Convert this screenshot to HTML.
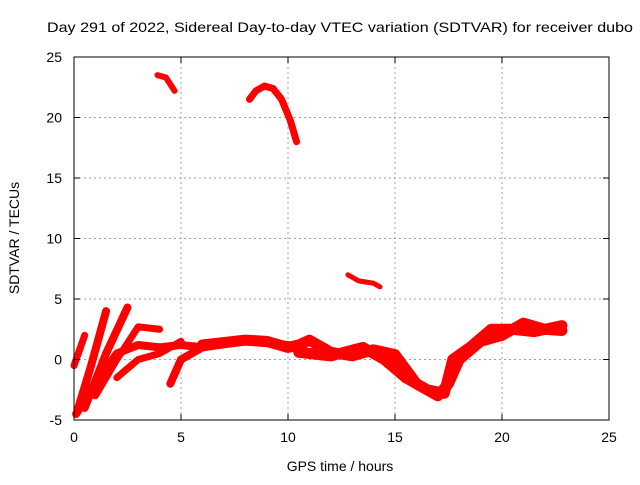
<!DOCTYPE html>
<html><head><meta charset="utf-8"><style>
body{margin:0;background:#fff;}
svg{font-family:"Liberation Sans",sans-serif;}
</style></head><body>
<svg width="640" height="480">
<rect width="640" height="480" fill="#fff"/>
<g id="grid"></g>
<g id="series"></g>
<g id="axes"></g>
<text x="47" y="32" font-size="14" textLength="586" lengthAdjust="spacingAndGlyphs">Day 291 of 2022, Sidereal Day-to-day VTEC variation (SDTVAR) for receiver dubo</text>
<text x="340" y="471" text-anchor="middle" font-size="14">GPS time / hours</text>
<text transform="translate(19,238) rotate(-90)" text-anchor="middle" font-size="14">SDTVAR / TECUs</text>
</svg>
<script>
const xTicks=[0,5,10,15,20,25];
const yTicks=[-5,0,5,10,15,20,25];
const trackA=[[0,-0.5],[0.3,1],[0.5,2]];
const trackB=[[0.2,-4],[0.8,-0.5],[1.5,4]];
const trackC=[[0.5,-4],[1.5,0.5],[2.5,4.3]];
const trackD=[[0.1,-4.5],[1,-2],[2,0.5],[3,1.2],[4,1],[5,1.2],[6,1]];
const trackE=[[1,-3],[2,0],[3,2.7],[4,2.5]];
const trackF=[[2,-1.5],[3,0],[4,0.5],[5,1.5]];
const trackG=[[4.5,-2],[5,0],[6,1],[8,1.5],[10,1.2]];
const trackMain=[[6,1.2],[8,1.6],[9,1.5],[10,1],[10.5,1.2],[11,1.6],[12,0.6],[13,0.3],[14,0.8],[15,0.4],[16,-2],[17,-3],[17.5,-2],[18,0],[19,1.5],[20,2],[21,3],[22,2.5],[22.8,2.4]];
const trackMain2=[[10.5,0.6],[12,0.3],[13.5,1],[14.5,0],[15.5,-1.5],[16.5,-2.5],[17.3,-2.8],[17.7,0],[18.5,1],[19.5,2.5],[20.5,2.5],[21.5,2.3],[22.8,2.8]];
const trackTop1=[[3.9,23.5],[4.3,23.3],[4.7,22.2]];
const trackTop2=[[8.2,21.5],[8.5,22.2],[8.9,22.6],[9.3,22.4],[9.7,21.5],[10.1,19.8],[10.4,18]];
const trackTop3=[[12.8,7],[13.3,6.5],[14,6.3],[14.3,6]];
const X0=74,X1=609,Y0=420,Y1=57;
const xs=v=>X0+(v-0)/25*(X1-X0);
const ys=v=>Y0-(v+5)/30*(Y0-Y1);
const NS="http://www.w3.org/2000/svg";
function mk(t,a,p){const e=document.createElementNS(NS,t);for(const k in a)e.setAttribute(k,a[k]);p.appendChild(e);return e;}
const grid=document.getElementById('grid'),axes=document.getElementById('axes'),ser=document.getElementById('series');
xTicks.forEach(v=>{
 if(v>0&&v<25){const l=mk('line',{x1:xs(v),x2:xs(v),y1:Y1,y2:Y0,stroke:'#a0a0a0','stroke-dasharray':'2,3'},grid);}
 const t=mk('line',{x1:xs(v),x2:xs(v),y1:Y0,y2:Y0-6,stroke:'#000'},axes);
 const t2=mk('line',{x1:xs(v),x2:xs(v),y1:Y1,y2:Y1+6,stroke:'#000'},axes);
 const tx=mk('text',{x:xs(v),y:Y0+22,'text-anchor':'middle','font-size':14},axes);tx.textContent=v;
});
yTicks.forEach(v=>{
 if(v>-5&&v<25){const l=mk('line',{x1:X0,x2:X1,y1:ys(v),y2:ys(v),stroke:'#a0a0a0','stroke-dasharray':'2,3'},grid);}
 const t=mk('line',{x1:X0,x2:X0+6,y1:ys(v),y2:ys(v),stroke:'#000'},axes);
 const t2=mk('line',{x1:X1,x2:X1-6,y1:ys(v),y2:ys(v),stroke:'#000'},axes);
 const tx=mk('text',{x:X0-12,y:ys(v)+5,'text-anchor':'end','font-size':14},axes);tx.textContent=v;
});
const fr=mk('rect',{x:X0,y:Y1,width:X1-X0,height:Y0-Y1,fill:'none',stroke:'#000'},axes);

const tracks=[[trackA,7],[trackB,8],[trackC,8],[trackD,8],[trackE,7],[trackF,7],[trackG,8],[trackMain,11],[trackMain2,11],[trackTop1,6],[trackTop2,7],[trackTop3,5]];
tracks.forEach(([d,w])=>{
 const p=mk('polyline',{points:d.map(q=>xs(q[0])+','+ys(q[1])).join(' '),fill:'none',stroke:'#ff0000','stroke-width':w,'stroke-linejoin':'round','stroke-linecap':'round'},ser);
 
 
});
</script>
</body></html>
